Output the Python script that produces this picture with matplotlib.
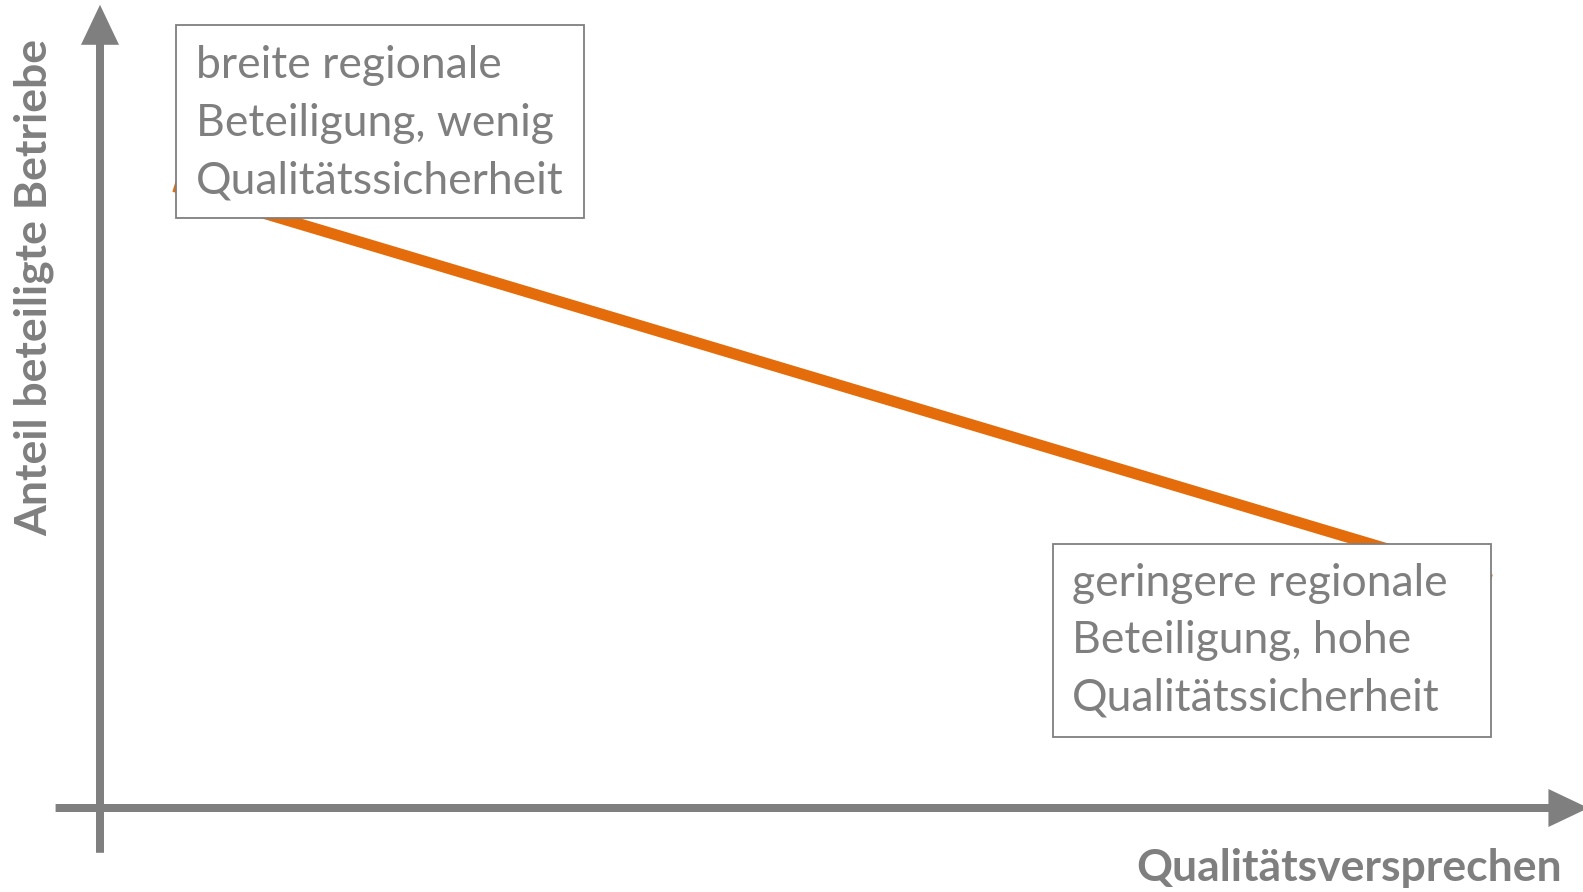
import matplotlib
matplotlib.use("Agg")
import matplotlib.pyplot as plt
import matplotlib.patches as patches

# conceptual data: origin = axis crossing, 1.0 = arrow tip
line_x = [0.05, 0.94]
line_y = [0.777, 0.285]

box_texts = ["breite regionale\nBeteiligung, wenig\nQualitätssicherheit",
             "geringere regionale\nBeteiligung, hohe\nQualitätssicherheit"]
x_label = "Qualitätsversprechen"
y_label = "Anteil beteiligte Betriebe"

grey = "#7f7f7f"
orange = "#e46c0a"

fig = plt.figure(figsize=(15.83, 8.92), dpi=100)
ax = fig.add_axes([0, 0, 1, 1])
ax.set_xlim(-100 / 1480, 1483 / 1480)
ax.set_ylim((808 - 892) / 800, 808 / 800)
ax.axis("off")

# axis arrows (widths given per axis because x and y units differ)
ax.arrow(0, -0.056, 0, 1.06, width=8 / 1480, head_width=38 / 1480,
         head_length=40 / 800, length_includes_head=True, color=grey, lw=0)
ax.arrow(-0.030, 0, 1.0357, 0, width=8 / 800, head_width=38 / 800,
         head_length=40 / 1480, length_includes_head=True, color=grey, lw=0)

ax.plot(line_x, line_y, color=orange, lw=8, solid_capstyle="butt", zorder=2)

# boxes (x0, y0, x1, y1) in the same units
boxes = [(0.0514, 0.7375, 0.327, 0.979), (0.644, 0.089, 0.940, 0.33)]
text_pos = [(0.0649, 0.856), (0.657, 0.209)]
for (x0, y0, x1, y1), (tx, ty), s in zip(boxes, text_pos, box_texts):
    ax.add_patch(patches.Rectangle((x0, y0), x1 - x0, y1 - y0, facecolor="white",
                                   edgecolor=grey, lw=1.3, zorder=3))
    ax.text(tx, ty, s, color=grey, fontsize=32, family="Lato", ha="left",
            va="center", linespacing=1.5, zorder=4)

fig.text(34 / 1583, 1 - 288 / 892, y_label, rotation=90, color=grey, fontsize=32,
         fontweight="bold", family="Lato", ha="center", va="center")
fig.text(1562 / 1583, 1 - 868 / 892, x_label, color=grey, fontsize=32,
         fontweight="bold", family="Lato", ha="right", va="center")

fig.savefig("out.png", dpi=100)
